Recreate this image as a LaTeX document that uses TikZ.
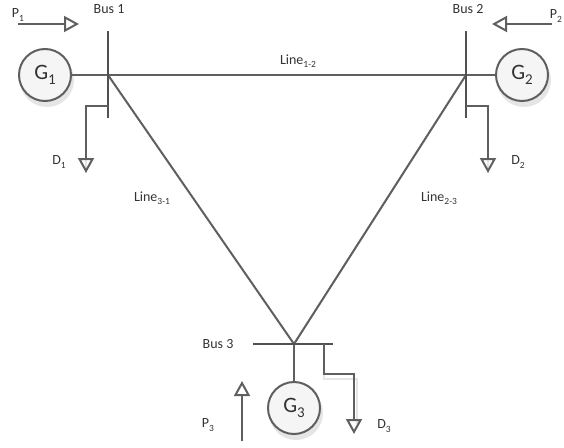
\documentclass[tikz,border=0pt]{standalone}
\usepackage{fontspec}
\setmainfont{Carlito}
\usetikzlibrary{arrows.meta,calc}
\definecolor{ln}{HTML}{5F5F5F}
\definecolor{txt}{HTML}{333333}
\newcommand{\lbl}[2]{#1\raisebox{-0.22em}{\fontsize{9.5}{10}\selectfont #2}}
\newcommand{\glbl}[2]{#1\raisebox{-0.22em}{\fontsize{15}{16}\selectfont #2}}
\tikzset{
  x=1pt,y=-1pt,
  wire/.style={draw=ln,line width=2pt},
  busbar/.style={draw=ln!85!black,line width=2.6pt},
  ghost/.style={draw=black!10,line width=2.5pt,shift={(3pt,-5pt)}},
  flow/.style={draw=ln,line width=2pt,-{Triangle[open,length=15pt,width=16pt,line width=2pt]}},
  gen/.style={circle,draw=ln,line width=2pt,fill=black!4,minimum size=52pt,inner sep=0pt,text=txt,font=\fontsize{22}{24}\selectfont},
  gshadow/.style={circle,fill=black!10,minimum size=54pt,inner sep=0pt},
  lab/.style={inner sep=0pt,text=txt,font=\fontsize{14}{16}\selectfont},
  pt/.style={inner sep=0pt,outer sep=0pt,minimum size=0pt}
}
\begin{document}
\begin{tikzpicture}
\useasboundingbox (0,0) rectangle (564,447);
% named points
\coordinate (b1a) at (108,31); \coordinate (b1b) at (108,118); \coordinate (b1j) at (108,75); \coordinate (b1d) at (108,106);
\coordinate (b2a) at (466,31); \coordinate (b2b) at (466,118); \coordinate (b2j) at (466,75); \coordinate (b2d) at (466,106);
\coordinate (b3a) at (253,344); \coordinate (b3b) at (333,344); \coordinate (b3j) at (294,344); \coordinate (b3d) at (324,344);
\coordinate (d1) at (86,173); \coordinate (d2) at (488,173); \coordinate (d3) at (354,434);
\coordinate (p1s) at (18,24); \coordinate (p1e) at (79,24);
\coordinate (p2s) at (552,24); \coordinate (p2e) at (492,24);
\coordinate (p3s) at (242,441); \coordinate (p3e) at (242,381);
% soft shadows
\node[gshadow] at (47,80) {};
\node[gshadow] at (524,80) {};
\node[gshadow] at (296,413) {};
\draw[ghost] (b1j) -- (b2j);
\draw[ghost] (b1a) -- (b1b);
\draw[ghost] (b2a) -- (b2b);
\draw[ghost] (b3a) -- (b3b);
\draw[ghost] (b1d) -| (d1);
\draw[ghost] (b2d) -| (d2);
\draw[ghost] (b3d) |- (354,374) -- (354,419);
\draw[draw=black!6,line width=2pt,shift={(4pt,-3pt)}] (b2j) -- (b3j);
% generators
\node[gen] (g1) at (45,75) {\glbl{G}{1}};
\node[gen] (g2) at (522,75) {\glbl{G}{2}};
\node[gen] (g3) at (294,408) {\glbl{G}{3}};
% connectors
\draw[wire] (b1j) -- (b2j);
\draw[wire] (b1j) -- (b3j);
\draw[wire] (b2j) -- (b3j);
\draw[wire] (g1) -- (b1j);
\draw[wire] (g2) -- (b2j);
\draw[wire] (g3) -- (b3j);
\draw[busbar] (b1a) -- (b1b);
\draw[busbar] (b2a) -- (b2b);
\draw[busbar] (b3a) -- (b3b);
\draw[flow] (b1d) -| (d1);
\draw[flow] (b2d) -| (d2);
\draw[flow] (b3d) |- (354,374) -- (d3);
\draw[flow] (p1s) -- (p1e);
\draw[flow] (p2s) -- (p2e);
\draw[flow] (p3s) -- (p3e);
% labels
\node[lab] (tb1) at (109,9) {Bus 1};
\node[lab] (tb2) at (468,9) {Bus 2};
\node[lab] (tb3) at (218,344) {Bus 3};
\node[lab] (tl12) at (298,61) {\lbl{Line}{1-2}};
\node[lab] (tl31) at (152,198) {\lbl{Line}{3-1}};
\node[lab] (tl23) at (439,198) {\lbl{Line}{2-3}};
\node[lab] (tp1) at (18,15) {\lbl{P}{1}};
\node[lab] (tp2) at (556,16) {\lbl{P}{2}};
\node[lab] (tp3) at (208,425) {\lbl{P}{3}};
\node[lab] (td1) at (59,162) {\lbl{D}{1}};
\node[lab] (td2) at (518,162) {\lbl{D}{2}};
\node[lab] (td3) at (384,426) {\lbl{D}{3}};
\end{tikzpicture}
\end{document}
